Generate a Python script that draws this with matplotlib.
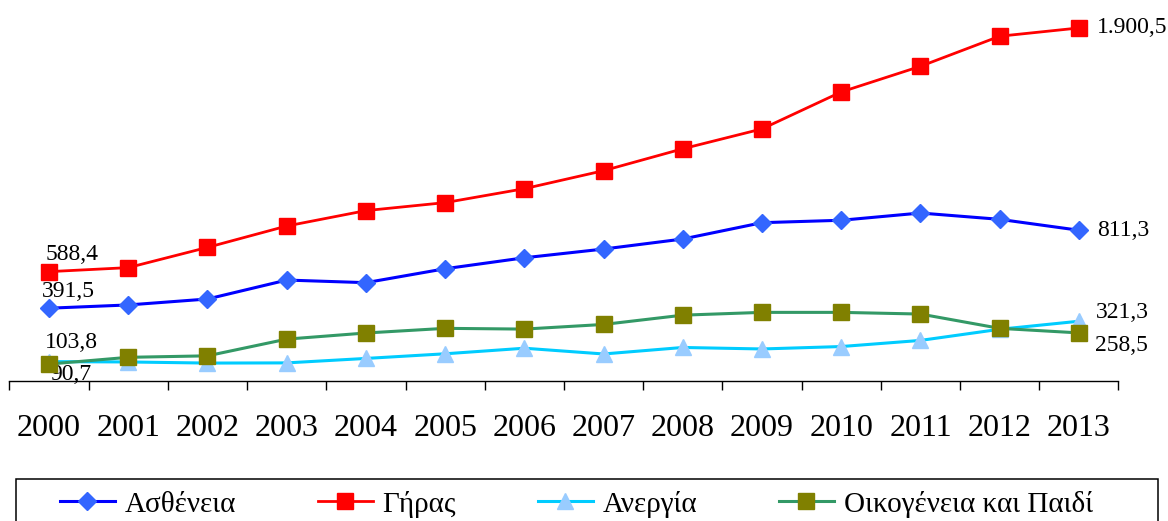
import numpy as np
import matplotlib
matplotlib.use('Agg')
import matplotlib.pyplot as plt
from matplotlib.patches import Rectangle

plt.rcParams['font.family'] = ['Liberation Serif', 'DejaVu Serif']

# Data
years = ['2000', '2001', '2002', '2003', '2004', '2005', '2006',
         '2007', '2008', '2009', '2010', '2011', '2012', '2013']
sickness = [391.5, 409, 441, 543, 529, 604, 663, 710, 764, 852, 865, 904, 870, 811.3]
old_age = [588.4, 610, 719, 834, 917, 960, 1035, 1132, 1250, 1357, 1556, 1694, 1856, 1900.5]
unemployment = [103.8, 102, 96, 97, 121, 146, 176, 145, 180, 172, 185, 218, 278, 321.3]
family = [90.7, 127, 135, 225, 258, 283, 279, 304, 354, 369, 369, 360, 283, 258.5]

labels = ['Ασθένεια', 'Γήρας', 'Ανεργία', 'Οικογένεια και Παιδί']

fig = plt.figure(figsize=(11.68, 5.21), dpi=100)
ax = fig.add_axes([0.0081, 0.2689, 0.9495, 0.7129])

x = np.arange(len(years))

ax.plot(x, sickness, color='#0000FF', lw=2.2, marker='D', ms=9,
        mfc='#3366FF', mec='#3366FF', label=labels[0], zorder=3)
ax.plot(x, old_age, color='#FF0000', lw=2.0, marker='s', ms=11.5,
        mfc='#FF0000', mec='#FF0000', label=labels[1], zorder=3)
ax.plot(x, unemployment, color='#00CCFF', lw=2.2, marker='^', ms=11.5,
        mfc='#99CCFF', mec='#99CCFF', label=labels[2], zorder=2)
ax.plot(x, family, color='#339966', lw=2.2, marker='s', ms=11,
        mfc='#808000', mec='#808000', label=labels[3], zorder=3)

ax.set_xlim(-0.5, len(years) - 0.5)
ax.set_ylim(0, 2000)

# axis styling: only the category axis is visible
for side in ['left', 'right', 'top']:
    ax.spines[side].set_visible(False)
ax.spines['bottom'].set_linewidth(1.0)
ax.set_yticks([])
ax.set_xticks(x)
ax.set_xticklabels(years, fontsize=23)
ax.set_xticks(np.arange(-0.5, len(years)), minor=True)
ax.tick_params(axis='x', which='major', length=0, pad=24)
ax.tick_params(axis='x', which='minor', length=6.5, width=1.0, direction='out')
ax.patch.set_alpha(0)

# data labels at first and last year
def fmt(v):
    s = f'{v:,.1f}'
    return s.replace(',', 'X').replace('.', ',').replace('X', '.')

lab_kw = dict(textcoords='offset pixels', fontsize=17, va='center', ha='left',
              annotation_clip=False)
ax.annotate(fmt(old_age[0]), (0, old_age[0]), xytext=(-4, 17), **lab_kw)
ax.annotate(fmt(sickness[0]), (0, sickness[0]), xytext=(-7, 17), **lab_kw)
ax.annotate(fmt(unemployment[0]), (0, unemployment[0]), xytext=(-4, 19), **lab_kw)
ax.annotate(fmt(family[0]), (0, family[0]), xytext=(1, -10), zorder=1, **lab_kw)

last = len(years) - 1
ax.annotate(fmt(old_age[last]), (last, old_age[last]), xytext=(18, 0), **lab_kw)
ax.annotate(fmt(sickness[last]), (last, sickness[last]), xytext=(18, 0), **lab_kw)
ax.annotate(fmt(unemployment[last]), (last, unemployment[last]), xytext=(17, 9), **lab_kw)
ax.annotate(fmt(family[last]), (last, family[last]), xytext=(16, -13), **lab_kw)

# legend box at the bottom (cut off by the figure edge)
fig.patches.append(Rectangle((16 / 1168, -0.05), 1142 / 1168, 0.05 + 42 / 521,
                             transform=fig.transFigure, fill=False,
                             edgecolor='black', lw=1.1))
handles, _ = ax.get_legend_handles_labels()
fig.legend(handles, labels, loc='center left', bbox_to_anchor=(60 / 1168, 17 / 521),
           ncol=4, frameon=False, fontsize=21, borderpad=0, borderaxespad=0,
           handlelength=1.88, handletextpad=0.34, columnspacing=2.8, numpoints=1)

fig.savefig('out.png', dpi=100)
